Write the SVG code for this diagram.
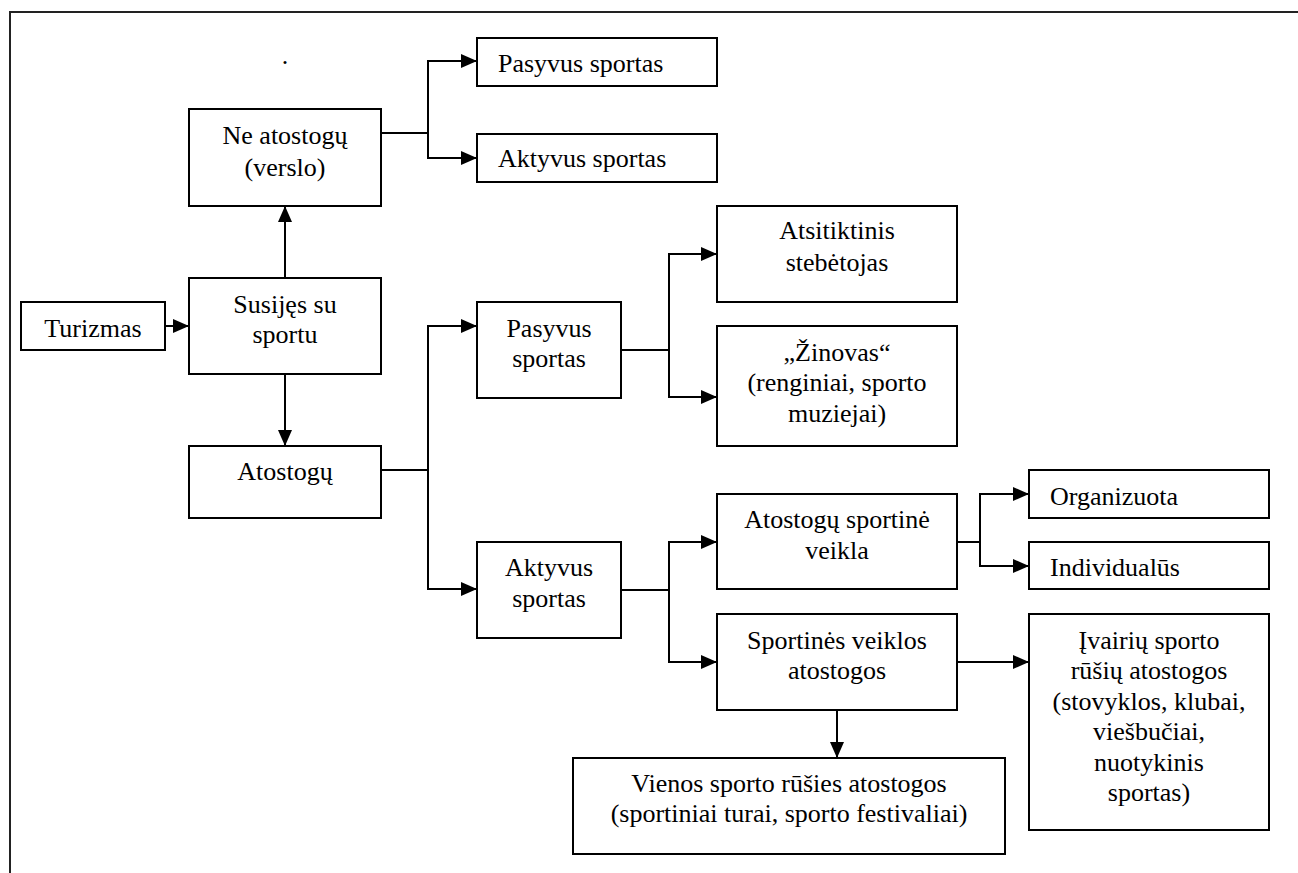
<svg xmlns="http://www.w3.org/2000/svg" width="1298" height="873" viewBox="0 0 1298 873" font-family="'Liberation Serif', 'Times New Roman', Times, serif">
<style>
.box{fill:#fff;stroke:#000;stroke-width:2}
text{font-family:'Liberation Serif','Times New Roman',Times,serif;font-size:26px;fill:#000}
.c{text-anchor:middle}
.ln{fill:none;stroke:#000;stroke-width:2}
.ar{fill:none;stroke:#000;stroke-width:2;marker-end:url(#ah)}
</style>
<defs>
<marker id="ah" markerUnits="userSpaceOnUse" markerWidth="16" markerHeight="14" refX="16" refY="7" orient="auto">
<path d="M0,0 L16,7 L0,14 Z" fill="#000"/>
</marker>
</defs>
<rect width="1298" height="873" fill="#fff"/>
<g id="frame">
<path d="M10,873 L10,12 L1298,12" fill="none" stroke="#222" stroke-width="2"/>
<text class="c" x="285" y="64">.</text>
</g>
<g id="connectors">
<path class="ar" d="M165,326 L189,326"/>
<path class="ar" d="M285,278 L285,206"/>
<path class="ar" d="M285,374 L285,446"/>
<path class="ln" d="M381,133 L428,133"/>
<path class="ar" d="M428,133 L428,61 L477,61"/>
<path class="ar" d="M428,133 L428,158 L477,158"/>
<path class="ln" d="M381,470 L428,470"/>
<path class="ar" d="M428,470 L428,326 L477,326"/>
<path class="ar" d="M428,470 L428,589 L477,589"/>
<path class="ln" d="M621,350 L669,350"/>
<path class="ar" d="M669,350 L669,254 L717,254"/>
<path class="ar" d="M669,350 L669,397 L717,397"/>
<path class="ln" d="M621,590 L669,590"/>
<path class="ar" d="M669,590 L669,542 L717,542"/>
<path class="ar" d="M669,590 L669,662 L717,662"/>
<path class="ln" d="M957,542 L980,542"/>
<path class="ar" d="M980,542 L980,494 L1029,494"/>
<path class="ar" d="M980,542 L980,566 L1029,566"/>
<path class="ar" d="M957,662 L1029,662"/>
<path class="ar" d="M837,710 L837,758"/>
</g>
<g id="turizmas">
<rect class="box" x="21" y="302" width="144" height="48"/>
<text class="c" x="93" y="337">Turizmas</text>
</g>
<g id="susijes">
<rect class="box" x="189" y="278" width="192" height="96"/>
<text class="c" x="285" y="313">Susijęs su</text>
<text class="c" x="285" y="343">sportu</text>
</g>
<g id="ne-atostogu">
<rect class="box" x="189" y="109" width="192" height="97"/>
<text class="c" x="285" y="144">Ne atostogų</text>
<text class="c" x="285" y="176">(verslo)</text>
</g>
<g id="atostogu">
<rect class="box" x="189" y="446" width="192" height="72"/>
<text class="c" x="285" y="480">Atostogų</text>
</g>
<g id="pasyvus-top">
<rect class="box" x="477" y="38" width="240" height="48"/>
<text x="498" y="72">Pasyvus sportas</text>
</g>
<g id="aktyvus-top">
<rect class="box" x="477" y="134" width="240" height="48"/>
<text x="498" y="167">Aktyvus sportas</text>
</g>
<g id="pasyvus">
<rect class="box" x="477" y="302" width="144" height="96"/>
<text class="c" x="549" y="337">Pasyvus</text>
<text class="c" x="549" y="367">sportas</text>
</g>
<g id="aktyvus">
<rect class="box" x="477" y="542" width="144" height="96"/>
<text class="c" x="549" y="576">Aktyvus</text>
<text class="c" x="549" y="607">sportas</text>
</g>
<g id="atsitiktinis">
<rect class="box" x="717" y="206" width="240" height="96"/>
<text class="c" x="837" y="239">Atsitiktinis</text>
<text class="c" x="837" y="271">stebėtojas</text>
</g>
<g id="zinovas">
<rect class="box" x="717" y="326" width="240" height="120"/>
<text class="c" x="837" y="361">„Žinovas“</text>
<text class="c" x="837" y="391">(renginiai, sporto</text>
<text class="c" x="837" y="422">muziejai)</text>
</g>
<g id="atostogu-sportine">
<rect class="box" x="717" y="494" width="240" height="95"/>
<text class="c" x="837" y="528">Atostogų sportinė</text>
<text class="c" x="837" y="559">veikla</text>
</g>
<g id="sportines">
<rect class="box" x="717" y="614" width="240" height="96"/>
<text class="c" x="837" y="649">Sportinės veiklos</text>
<text class="c" x="837" y="679">atostogos</text>
</g>
<g id="organizuota">
<rect class="box" x="1029" y="470" width="240" height="48"/>
<text x="1050" y="505">Organizuota</text>
</g>
<g id="individualus">
<rect class="box" x="1029" y="542" width="240" height="47"/>
<text x="1050" y="576">Individualūs</text>
</g>
<g id="ivairiu">
<rect class="box" x="1029" y="614" width="240" height="216"/>
<text class="c" x="1149" y="649">Įvairių sporto</text>
<text class="c" x="1149" y="679">rūšių atostogos</text>
<text class="c" x="1149" y="710">(stovyklos, klubai,</text>
<text class="c" x="1149" y="740">viešbučiai,</text>
<text class="c" x="1149" y="771">nuotykinis</text>
<text class="c" x="1149" y="801">sportas)</text>
</g>
<g id="vienos">
<rect class="box" x="573" y="758" width="432" height="96"/>
<text class="c" x="789" y="792">Vienos sporto rūšies atostogos</text>
<text class="c" x="789" y="822">(sportiniai turai, sporto festivaliai)</text>
</g>
</svg>
